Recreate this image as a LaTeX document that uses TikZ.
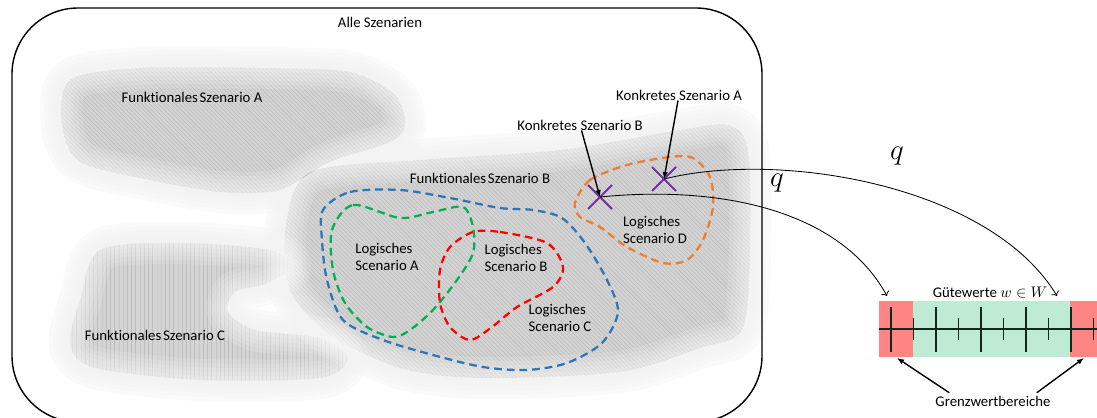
\documentclass[tikz,border=0pt]{standalone}
\usepackage{fontspec}
\setmainfont{Carlito}[Ligatures=NoCommon]
\usetikzlibrary{patterns,arrows.meta}

\definecolor{flaeche}{gray}{0.83}
\definecolor{schraff}{gray}{0.74}
\definecolor{lblau}{HTML}{2E75B6}
\definecolor{lgruen}{HTML}{00B050}
\definecolor{lrot}{HTML}{FF0000}
\definecolor{lorange}{HTML}{ED7D31}
\definecolor{lila}{HTML}{7030A0}
\definecolor{grenzrot}{HTML}{FF8585}
\definecolor{gutgruen}{HTML}{BFEAD3}
\definecolor{skala}{HTML}{10281A}

\tikzset{
    txt/.style={font=\fontsize{10.5}{12.6}\selectfont, inner sep=0pt},
    logisch/.style={line width=1.6pt, dash pattern=on 5.5pt off 3.5pt},
    kreuz/.style={draw=lila, line width=1.4pt},
    pfeil/.style={line width=1pt, -{Latex[length=5pt,width=4pt]}},
    abbildung/.style={line width=0.6pt, ->},
    aussen/.style={flaeche, opacity=0.13, line join=round},
    innen/.style={white, opacity=0.13, line join=round},
}

%% Umrisse der funktionalen Szenarien
\newcommand{\flaecheA}{plot[smooth cycle] coordinates {(70,80) (140,68) (260,68) (350,72) (395,95) (405,125) (390,142) (330,162) (280,190) (220,192) (150,180) (80,162) (62,125)}}
\newcommand{\flaecheB}{plot[smooth cycle] coordinates {(310,172) (420,160) (560,150) (680,130) (728,125) (748,150) (750,250) (742,330) (700,348) (620,372) (480,378) (400,368) (330,335) (290,290) (286,225)}}
\newcommand{\flaecheC}{plot[smooth cycle] coordinates {(100,250) (180,243) (270,250) (290,268) (265,284) (235,292) (228,312) (255,330) (320,338) (348,358) (320,378) (200,380) (95,368) (70,345) (80,300)}}

\begin{document}
\begin{tikzpicture}[x=0.025cm, y=-0.025cm]
    \useasboundingbox (0,0) rectangle (1097,418);

    %% Weiche Raender aussen
    \foreach \breite in {6,12,...,30} {
        \draw[aussen, line width=\breite pt] \flaecheA;
        \draw[aussen, line width=\breite pt] \flaecheB;
        \draw[aussen, line width=\breite pt] \flaecheC;
    }
    %% Flaechen mit Schraffur
    \fill[flaeche] \flaecheA;
    \fill[flaeche] \flaecheB;
    \fill[flaeche] \flaecheC;
    \fill[pattern=north west lines, pattern color=schraff] \flaecheA;
    \fill[pattern=north west lines, pattern color=schraff] \flaecheB;
    \fill[pattern=vertical lines, pattern color=schraff] \flaecheC;
    %% Weiche Raender innen
    \foreach \breite in {6,12,...,30} {
        \draw[innen, line width=\breite pt] \flaecheC;
    }
    \begin{scope}[even odd rule]
        \clip (0,0) rectangle (1097,418) \flaecheB;
        \foreach \breite in {6,12,...,30} {
            \draw[innen, line width=\breite pt] \flaecheA;
        }
    \end{scope}
    \begin{scope}[even odd rule]
        \clip (0,0) rectangle (1097,418) \flaecheA;
        \foreach \breite in {6,12,...,30} {
            \draw[innen, line width=\breite pt] \flaecheB;
        }
    \end{scope}

    %% Alle Szenarien
    \draw[line width=1pt, rounded corners=47pt] (12,8) rectangle (762,422);
    \node[txt] (alle) at (380,22) {Alle Szenarien};

    \node[txt] (funkA) at (192,97) {Funktionales\hspace{0.12em}Szenario A};
    \node[txt] (funkB) at (480,178) {Funktionales\hspace{0.12em}Szenario B};
    \node[txt] (funkC) at (155,335) {Funktionales\hspace{0.12em}Szenario C};

    %% Logische Szenarien
    \draw[logisch, lblau] plot[smooth cycle] coordinates {(323,210) (350,192) (400,190) (450,198) (500,208) (533,210) (562,218) (585,243) (607,280) (618,312) (602,343) (567,363) (527,370) (483,367) (433,355) (383,340) (343,320) (327,280) (322,240)};
    \draw[logisch, lgruen] plot[smooth cycle] coordinates {(332,230) (353,205) (400,218) (433,212) (463,207) (473,227) (473,253) (457,280) (433,310) (410,330) (393,337) (367,327) (345,303) (333,270)};
    \draw[logisch, lrot] plot[smooth cycle] coordinates {(473,232) (500,232) (547,243) (563,267) (553,287) (517,307) (492,327) (470,340) (450,327) (440,303) (440,270) (450,247)};
    \draw[logisch, lorange] plot[smooth cycle] coordinates {(575,203) (590,180) (627,165) (670,157) (693,158) (710,177) (713,207) (703,240) (687,260) (663,263) (627,247) (600,227) (580,217)};

    \node[txt, align=left] (logA) at (387,257) {Logisches\\Scenario A};
    \node[txt, align=left] (logB) at (516,258) {Logisches\\Scenario B};
    \node[txt, align=left] (logC) at (560,318) {Logisches\\Scenario C};
    \node[txt, align=left] (logD) at (655,230) {Logisches\\Scenario D};

    %% Konkrete Szenarien
    \coordinate (krA) at (664,179);
    \coordinate (krB) at (600,197);
    \draw[kreuz] (652,167) -- (676,191) (652,191) -- (676,167);
    \draw[kreuz] (588,185) -- (612,209) (588,209) -- (612,185);
    \node[txt] (konkA) at (679,95) {Konkretes Szenario A};
    \node[txt] (konkB) at (580,125) {Konkretes Szenario B};
    \draw[pfeil] (konkA) -- (krA);
    \draw[pfeil] (konkB) -- (krB);

    %% Guetewerte
    \fill[grenzrot] (879,301) rectangle (913,357);
    \fill[gutgruen] (913,301) rectangle (1070,357);
    \fill[grenzrot] (1070,301) rectangle (1100,357);
    \draw[skala, line width=1.3pt] (879,329) -- (1100,329);
    \foreach \i in {0,...,9} {
        \ifodd\i
            \draw[skala, line width=1.3pt] (891+22.5*\i,318) -- (891+22.5*\i,340);
        \else
            \draw[skala, line width=1.3pt] (891+22.5*\i,307) -- (891+22.5*\i,352);
        \fi
    }
    \node[txt] (guete) at (990,293) {Gütewerte $w \in W$};
    \coordinate (zielB) at (887,296);
    \coordinate (zielA) at (1057,296);

    %% Abbildung q
    \draw[abbildung] (krB) .. controls (720,185) and (840,210) .. (zielB);
    \draw[abbildung] (krA) .. controls (780,150) and (990,185) .. (zielA);
    \node[font=\fontsize{20}{24}\selectfont] (qB) at (777,183) {$q$};
    \node[font=\fontsize{20}{24}\selectfont] (qA) at (897,156) {$q$};

    %% Grenzwertbereiche
    \node[txt] (grenz) at (993,401) {Grenzwertbereiche};
    \coordinate (grenzL) at (897,358);
    \coordinate (grenzR) at (1084,358);
    \draw[pfeil] ([xshift=10pt,yshift=2pt]grenz.north west) -- (grenzL);
    \draw[pfeil] ([xshift=-10pt,yshift=2pt]grenz.north east) -- (grenzR);
\end{tikzpicture}
\end{document}
